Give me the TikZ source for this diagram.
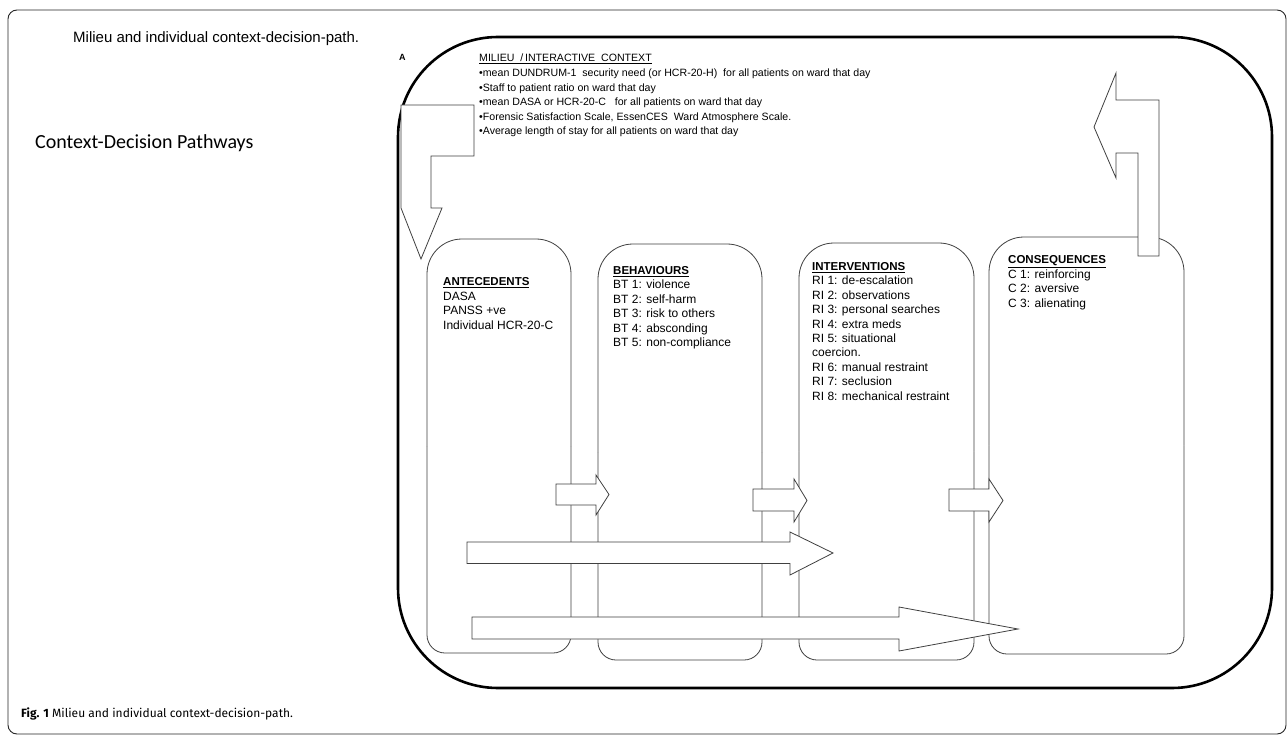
\documentclass[tikz,border=0pt]{standalone}
\usepackage{fontspec}
\setmainfont{Liberation Sans}
\newfontfamily\calib{Carlito}
\newfontfamily\capfont{Fira Sans}
\begin{document}
\begin{tikzpicture}[x=1pt,y=-1pt,
  frame/.style={draw=black!85, line width=0.9pt},
  inner/.style={draw=black, line width=2.6pt},
  colbox/.style={draw=black!75, line width=0.8pt},
  blockarrow/.style={draw=black!75, line width=0.8pt, fill=white, line join=miter},
  txt/.style={anchor=base west, inner sep=0pt, font=\fontsize{12}{14}\selectfont},
  head/.style={anchor=base west, inner sep=0pt, font=\fontsize{11.5}{14}\selectfont\bfseries},
  mil/.style={anchor=base west, inner sep=0pt, font=\fontsize{10.6}{13}\selectfont}]
\useasboundingbox (0,0) rectangle (1287,735);
\fill[white] (0,0) rectangle (1287,735);
% outer frame
\draw[frame, rounded corners=9] (8,10) rectangle (1286,734);
% titles
\node[anchor=base west, inner sep=0pt, font=\fontsize{15}{18}\selectfont] (title) at (73,43) {Milieu and individual context-decision-path.};
\node[anchor=base west, inner sep=0pt, font=\fontsize{9}{10}\selectfont\bfseries] (lblA) at (399,61) {A};
\node[anchor=west, inner sep=0pt, font=\calib\fontsize{20}{24}\selectfont] (cdp) at (35,143) {Context-Decision Pathways};
\node[anchor=base west, inner sep=0pt, font=\capfont\fontsize{12}{14}\selectfont] (caption) at (21,717) {\textbf{Fig. 1} Milieu and individual context-decision-path.};
% inner thick frame
\draw[inner, rounded corners=100] (398,37) rectangle (1272,688);
% milieu text
\node[mil] (m0) at (479,62) {\underline{MILIEU\ \ /\,INTERACTIVE\ \ CONTEXT}};
\foreach [count=\i] \t in {{•mean DUNDRUM-1\ \ security need (or HCR-20-H)\ \ for all patients on ward that day},
  {•Staff to patient ratio on ward that day},
  {•mean DASA or HCR-20-C\ \ \ for all patients on ward that day},
  {•Forensic Satisfaction Scale, EssenCES\ \ Ward Atmosphere Scale.},
  {•Average length of stay for all patients on ward that day}}
  \node[mil] (m\i) at (479,62+14.6*\i) {\t};
% column boxes
\newcommand\cbox[4]{%
  \draw[colbox, rounded corners=35] (#1,{(#2+#4)/2}) -- (#1,#2) -- (#3,#2) -- (#3,{(#2+#4)/2});
  \draw[colbox, rounded corners=18] (#3,{(#2+#4)/2}) -- (#3,#4) -- (#1,#4) -- (#1,{(#2+#4)/2});}
\cbox{427}{239}{571}{653}
\cbox{598}{244}{762}{660}
\cbox{799}{243}{974}{660}
\cbox{989}{237}{1184}{654}
% column texts
\node[head] (anth) at (443,286) {\underline{ANTECEDENTS}};
\foreach [count=\i] \t in {DASA, PANSS +ve, Individual HCR-20-C}
  \node[txt] (ant\i) at (443,286+14.4*\i) {\t};
\node[head] (behh) at (613,274.5) {\underline{BEHAVIOURS}};
\foreach [count=\i] \t in {BT 1: violence, BT 2: self-harm, BT 3: risk to others, BT 4: absconding, BT 5: non-compliance}
  \node[txt] (beh\i) at (613,274.5+14.4*\i) {\t};
\node[head] (inth) at (812,270.5) {\underline{INTERVENTIONS}};
\foreach [count=\i] \t in {RI\ 1: de-escalation, RI\ 2: observations, RI\ 3: personal searches, RI\ 4: extra meds, RI\ 5: situational, coercion., RI\ 6: manual restraint, RI\ 7: seclusion, RI\ 8: mechanical restraint}
  \node[txt] (int\i) at (812,270.5+14.4*\i) {\t};
\node[head] (conh) at (1008,263.6) {\underline{CONSEQUENCES}};
\foreach [count=\i] \t in {C 1: reinforcing, C 2: aversive, C 3: alienating}
  \node[txt] (con\i) at (1008,263.6+14.6*\i) {\t};
% bent down arrow (milieu -> antecedents)
\draw[blockarrow] (401,105) -- (474,105) -- (474,156) -- (431,156) -- (431,208) -- (442,208) -- (421,259) -- (401,208) -- cycle;
% bent up arrow (consequences -> milieu)
\draw[blockarrow] (1094,127) -- (1116,73) -- (1116,100) -- (1159,100) -- (1159,256) -- (1138,256) -- (1138,153) -- (1116,153) -- (1116,178) -- cycle;
% small arrows between columns
\draw[blockarrow] (556,484) -- (596,484) -- (596,475) -- (609,494.5) -- (596,515) -- (596,505) -- (556,505) -- cycle;
\draw[blockarrow] (753,489) -- (794,489) -- (794,479) -- (807,500.5) -- (794,522) -- (794,511) -- (753,511) -- cycle;
\draw[blockarrow] (949,489) -- (989,489) -- (989,479) -- (1003,500.5) -- (989,522) -- (989,511) -- (949,511) -- cycle;
% long arrows
\draw[blockarrow] (467,542) -- (790,542) -- (790,532) -- (833,553) -- (790,575) -- (790,563.5) -- (467,563.5) -- cycle;
\draw[blockarrow] (472,617) -- (899,617) -- (899,607) -- (1018,629) -- (899,651) -- (899,639) -- (472,639) -- cycle;
\end{tikzpicture}
\end{document}
